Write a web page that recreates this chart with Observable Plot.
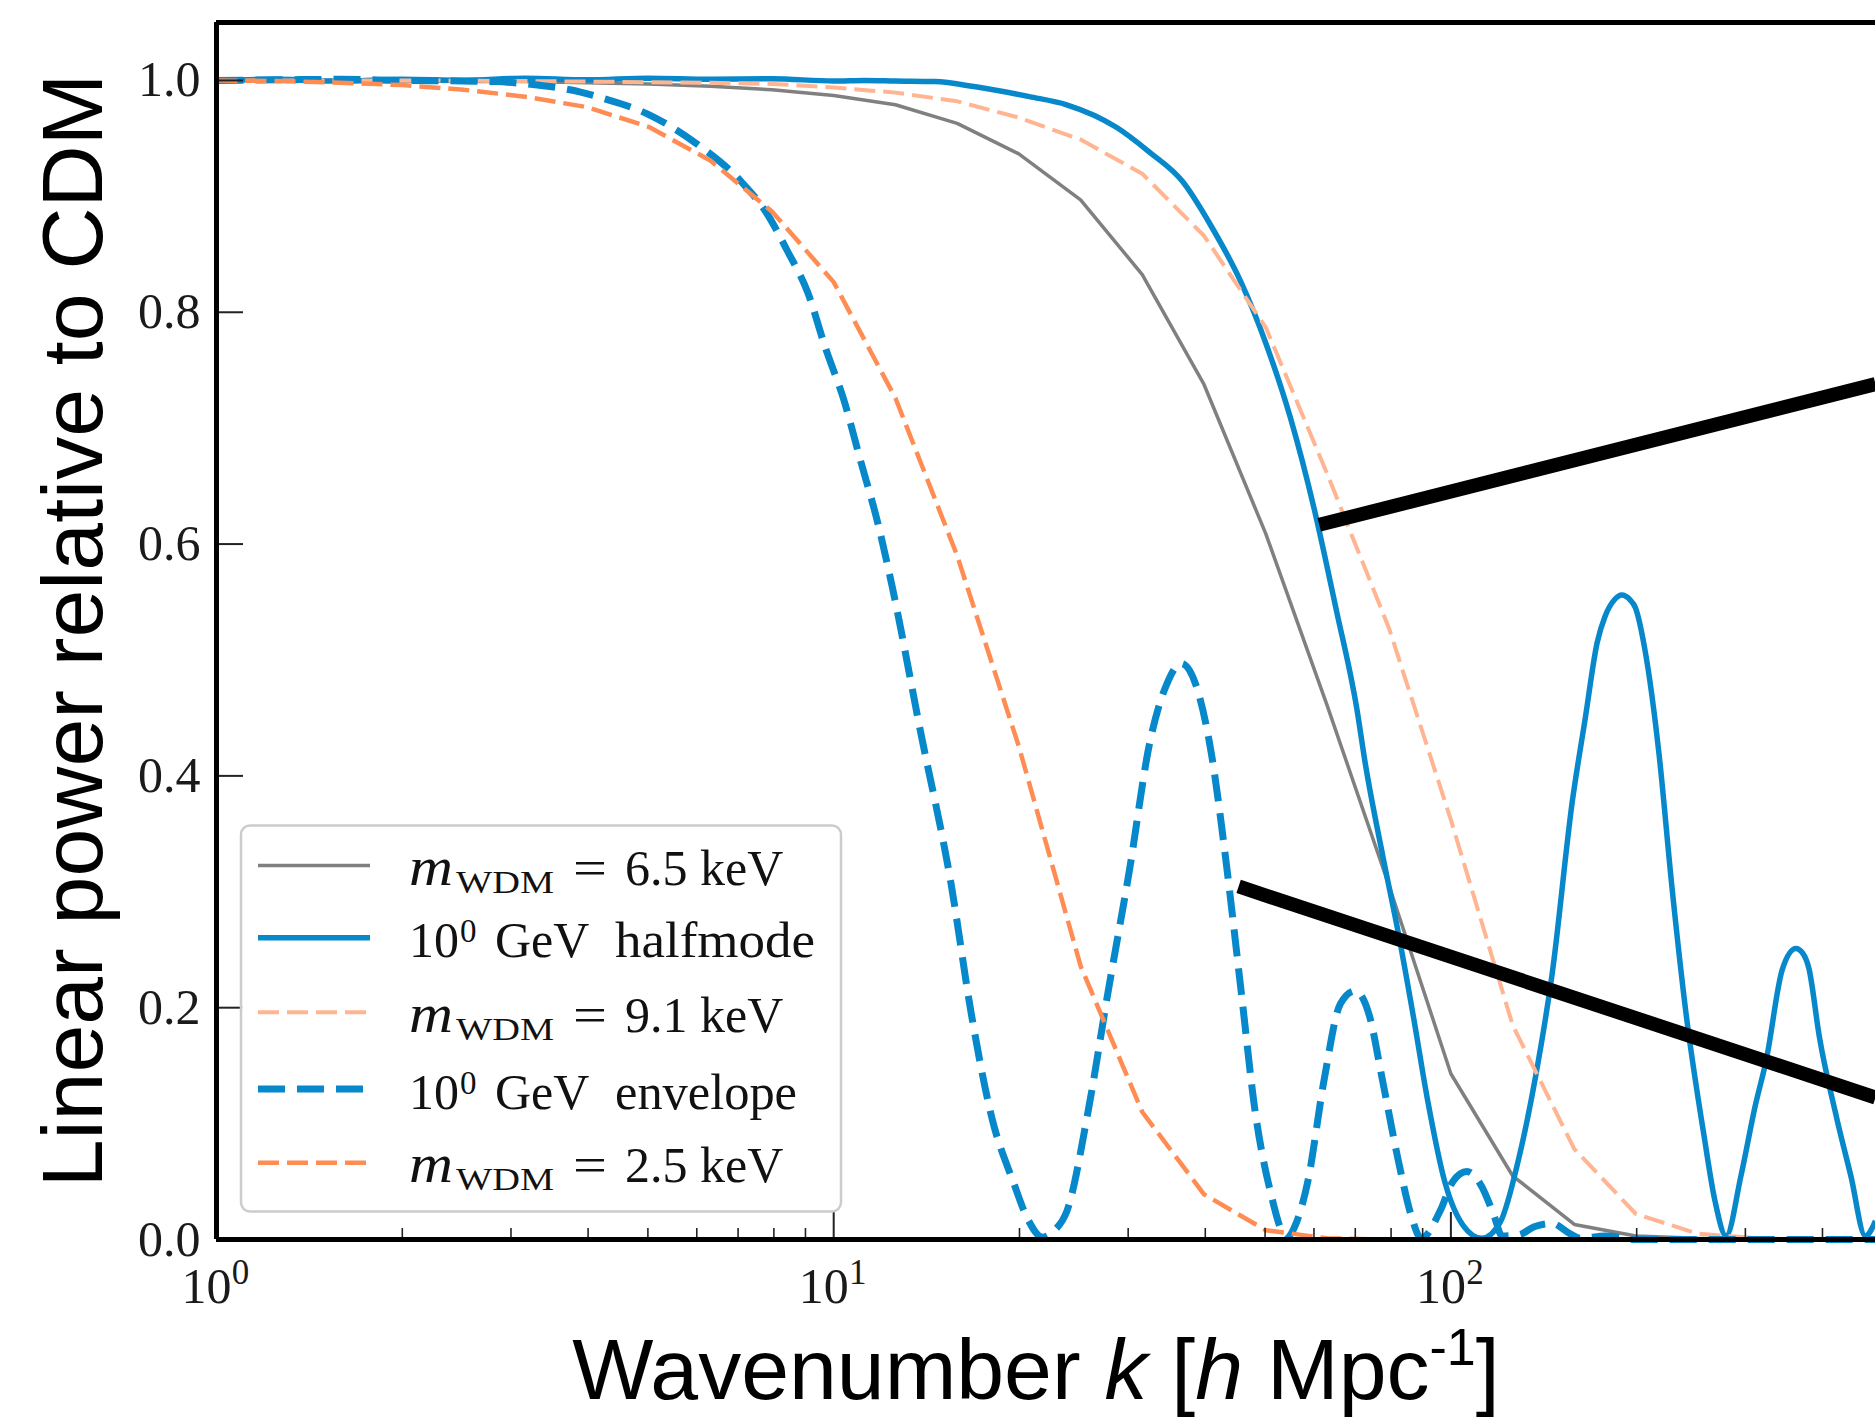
<!DOCTYPE html>
<html>
<head>
<meta charset="utf-8">
<script src="https://cdn.jsdelivr.net/npm/d3@7"></script>
<script src="https://cdn.jsdelivr.net/npm/@observablehq/plot@0.6"></script>
<style>
  html, body { margin: 0; padding: 0; background: #ffffff; }
  #chart svg { display: block; }
</style>
</head>
<body>
<div id="chart"></div>
<script>
// ---------------- data ----------------
// coarse grid (10 points per decade) used by the WDM transfer functions
const gridK = [1, 1.259, 1.585, 1.995, 2.512, 3.162, 3.981, 5.012, 6.310, 7.943,
  10, 12.59, 15.85, 19.95, 25.12, 31.62, 39.81, 50.12, 63.10, 79.43,
  100, 125.9, 158.5, 199.5, 251.2, 316.2, 398.1, 487.5];

const wdm65 = [1.0, 1.0, 1.0, 0.9995, 0.999, 0.999, 0.998, 0.997, 0.995, 0.992,
  0.987, 0.979, 0.963, 0.9366, 0.897, 0.8325, 0.7377, 0.609, 0.46, 0.305,
  0.143, 0.055, 0.013, 0.003, 0.001, 0.0005, 0.0, 0.0];

const wdm91 = [1.0, 1.0, 1.0, 1.0, 0.9998, 0.9995, 0.999, 0.9985, 0.998, 0.997,
  0.994, 0.9895, 0.982, 0.968, 0.949, 0.9195, 0.866, 0.787, 0.66, 0.527,
  0.362, 0.185, 0.078, 0.022, 0.005, 0.001, 0.0, 0.0];

const wdm25 = [1.0, 0.9995, 0.998, 0.996, 0.992, 0.986, 0.977, 0.960, 0.931, 0.887,
  0.826, 0.726, 0.590, 0.4255, 0.236, 0.110, 0.039, 0.008, 0.001, 0.0,
  0.0, 0.0, 0.0, 0.0, 0.0, 0.0, 0.0, 0.0];

// 10^0 GeV halfmode (log10 k, ratio)
const halfmodeLogK = [0, 0.1, 0.2, 0.3, 0.4, 0.5, 0.6, 0.7, 0.8, 0.9,
  1.0, 1.05, 1.1, 1.163, 1.23, 1.317, 1.3775, 1.458, 1.512, 1.565,
  1.612, 1.659, 1.700, 1.740, 1.780, 1.814, 1.8474, 1.8615, 1.89, 1.915,
  1.94, 1.962, 1.99, 2.02, 2.05, 2.08, 2.11, 2.137, 2.164, 2.197,
  2.2175, 2.237, 2.25, 2.265, 2.277, 2.29, 2.299, 2.315, 2.337, 2.358,
  2.381, 2.41, 2.428, 2.446, 2.47, 2.493, 2.511, 2.537, 2.559, 2.57,
  2.58, 2.597, 2.625, 2.648, 2.6715, 2.688];
const halfmode = [1.0, 1.001, 0.9995, 1.001, 1.0, 1.002, 1.0005, 1.002, 1.001, 1.0015,
  0.9995, 1.0, 0.9995, 0.999, 0.9945, 0.986, 0.979, 0.9596, 0.938, 0.913,
  0.874, 0.827, 0.7735, 0.709, 0.627, 0.544, 0.4585, 0.41, 0.33, 0.264,
  0.19, 0.121, 0.05, 0.012, 0.001, 0.015, 0.07, 0.14, 0.229, 0.379,
  0.449, 0.515, 0.538, 0.552, 0.556, 0.552, 0.545, 0.507, 0.42, 0.305,
  0.195, 0.09, 0.033, 0.003, 0.055, 0.115, 0.155, 0.233, 0.251, 0.247,
  0.234, 0.175, 0.105, 0.055, 0.003, 0.016];

// 10^0 GeV envelope (log10 k, ratio)
const envelopeLogK = [0, 0.1, 0.2, 0.3, 0.4, 0.45, 0.52, 0.59, 0.6235, 0.697,
  0.777, 0.8507, 0.89, 0.9246, 0.958, 0.987, 1.0155, 1.0437, 1.072, 1.095,
  1.14, 1.19, 1.2235, 1.257, 1.291, 1.315, 1.338, 1.358, 1.378, 1.412,
  1.445, 1.479, 1.5126, 1.5395, 1.563, 1.5865, 1.6133, 1.6334, 1.66, 1.683,
  1.707, 1.734, 1.75, 1.768, 1.795, 1.821, 1.845, 1.868, 1.8886, 1.915,
  1.9355, 1.952, 1.9826, 2.0027, 2.026, 2.0497, 2.0697, 2.083, 2.11, 2.135,
  2.164, 2.19, 2.21, 2.25, 2.3, 2.688];
const envelope = [1.0, 1.0005, 1.001, 1.0, 0.9995, 0.999, 0.996, 0.99, 0.985, 0.9714,
  0.9457, 0.9124, 0.8867, 0.8533, 0.817, 0.7686, 0.726, 0.6716, 0.617, 0.5627,
  0.44, 0.3074, 0.193, 0.1034, 0.0497, 0.017, 0.002, 0.008, 0.0247, 0.11,
  0.215, 0.318, 0.43, 0.479, 0.497, 0.479, 0.4148, 0.336, 0.215, 0.11,
  0.0426, 0.002, 0.015, 0.0497, 0.139, 0.2035, 0.2145, 0.193, 0.139, 0.0676,
  0.021, 0.001, 0.0247, 0.0497, 0.0587, 0.046, 0.021, 0.003, 0.004, 0.011,
  0.0139, 0.006, 0.001, 0.003, 0.0, 0.0];

// zoom connector lines (to the inset panel off to the right)
const connectors = [
  {k1: 61.2, v1: 0.6166, k2: 487.5, v2: 0.738},
  {k1: 45.3, v1: 0.3046, k2: 487.5, v2: 0.1225}
];

const xMajorTicks = [1, 10, 100];
const xMajorExp = ["0", "1", "2"];
const xMinorTicks = [2, 3, 4, 5, 6, 7, 8, 9, 20, 30, 40, 50, 60, 70, 80, 90, 200, 300, 400];
const yTicks = [0, 0.2, 0.4, 0.6, 0.8, 1.0];
const xDomain = [1, 487.5];
const yDomain = [0, 1.05];

const legendItems = [
  {kind: "m", value: "6.5"},
  {kind: "g", value: "halfmode"},
  {kind: "m", value: "9.1"},
  {kind: "g", value: "envelope"},
  {kind: "m", value: "2.5"}
];

// ---------------- styles ----------------
const BLUE = "#0788cb", GRAY = "#808080", PEACH = "#ffb591", ORANGE = "#ff8c52";
const FONT_SERIF = "'Liberation Serif', 'DejaVu Serif', serif";
const FONT_SANS = "'Liberation Sans', Arial, sans-serif";
const styles = [
  {stroke: GRAY, strokeWidth: 3.5, dash: null},
  {stroke: BLUE, strokeWidth: 5.5, dash: null},
  {stroke: PEACH, strokeWidth: 4, dash: "21,8"},
  {stroke: BLUE, strokeWidth: 7, dash: "27,12"},
  {stroke: ORANGE, strokeWidth: 4.5, dash: "21,8"}
];

const W = 1875, H = 1417;
const mL = 216, mR = 0, mT = 22, mB = 178;
const plotW = W - mL - mR, plotH = H - mT - mB;

const zipGrid = (vals) => gridK.map((k, i) => ({k, v: vals[i]}));
const zipLog = (logs, vals) => logs.map((lk, i) => ({k: Math.pow(10, lk), v: vals[i]}));

const rows65 = zipGrid(wdm65);
const rows91 = zipGrid(wdm91);
const rows25 = zipGrid(wdm25);
const rowsHalf = zipLog(halfmodeLogK, halfmode);
const rowsEnv = zipLog(envelopeLogK, envelope);

const lineOpts = (s, curve) => ({
  x: "k", y: "v", stroke: s.stroke, strokeWidth: s.strokeWidth,
  strokeDasharray: s.dash ?? undefined, strokeLinecap: "butt", strokeLinejoin: "round", curve
});

const chart = Plot.plot({
  width: W, height: H,
  marginLeft: mL, marginRight: mR, marginTop: mT, marginBottom: mB,
  style: {background: "#ffffff", fontFamily: FONT_SERIF, overflow: "visible"},
  x: {type: "log", domain: xDomain, axis: null},
  y: {domain: yDomain, axis: null},
  marks: [
    Plot.line(rows65, lineOpts(styles[0], "linear")),
    Plot.line(rowsHalf, lineOpts(styles[1], "monotone-x")),
    Plot.line(rows91, lineOpts(styles[2], "linear")),
    Plot.line(rowsEnv, lineOpts(styles[3], "monotone-x")),
    Plot.line(rows25, lineOpts(styles[4], "linear")),
    // inward ticks
    Plot.tickX(xMajorTicks, {x: d => d, insetTop: plotH - 27, stroke: "#222", strokeWidth: 2}),
    Plot.tickX(xMinorTicks, {x: d => d, insetTop: plotH - 11, stroke: "#222", strokeWidth: 1.6}),
    Plot.tickY(yTicks, {y: d => d, insetRight: plotW - 27, stroke: "#222", strokeWidth: 2}),
    // frame (left, bottom, top)
    Plot.ruleX([xDomain[0]], {stroke: "#000", strokeWidth: 5}),
    Plot.ruleY([yDomain[0]], {stroke: "#000", strokeWidth: 5}),
    Plot.ruleY([yDomain[1]], {stroke: "#000", strokeWidth: 5}),
    // axis labels
    Plot.axisY({ticks: yTicks, tickSize: 0, tickPadding: 16, tickFormat: d => d.toFixed(1),
      fontSize: 50, fontFamily: FONT_SERIF, fill: "#1a1a1a", label: null}),
    Plot.text(xMajorTicks, {x: d => d, frameAnchor: "bottom", lineAnchor: "middle", text: () => "10", dx: -10, dy: 47,
      fontSize: 50, fontFamily: FONT_SERIF, fill: "#1a1a1a"}),
    Plot.text(xMajorTicks, {x: d => d, frameAnchor: "bottom", lineAnchor: "middle", text: (d, i) => xMajorExp[i], dx: 24, dy: 33,
      fontSize: 35, fontFamily: FONT_SERIF, fill: "#1a1a1a"}),
    // connector lines
    Plot.link(connectors, {x1: "k1", y1: "v1", x2: "k2", y2: "v2", stroke: "#000", strokeWidth: 14, strokeLinecap: "butt"})
  ]
});

document.getElementById("chart").appendChild(chart);

// ---------------- text: axis titles and legend ----------------
const svg = d3.select(chart);

svg.append("text")
  .attr("transform", `translate(102,${mT + plotH / 2}) rotate(-90)`)
  .attr("text-anchor", "middle")
  .attr("font-family", FONT_SANS).attr("font-size", 86).attr("fill", "#000")
  .text("Linear power relative to CDM");

const xl = svg.append("text")
  .attr("x", 1036).attr("y", 1399)
  .attr("text-anchor", "middle")
  .attr("font-family", FONT_SANS).attr("font-size", 86).attr("fill", "#000")
  .style("white-space", "pre");
xl.append("tspan").text("Wavenumber ");
xl.append("tspan").attr("font-style", "italic").text("k");
xl.append("tspan").text(" [");
xl.append("tspan").attr("font-style", "italic").text("h");
xl.append("tspan").text(" Mpc");
xl.append("tspan").attr("font-size", 52).attr("dy", -34).text("-1");
xl.append("tspan").attr("dy", 34).text("]");

// legend
const lg = svg.append("g").attr("text-anchor", "start");
lg.append("rect")
  .attr("x", 241).attr("y", 825.5).attr("width", 600).attr("height", 386).attr("rx", 9)
  .attr("fill", "#ffffff").attr("fill-opacity", 0.85)
  .attr("stroke", "#cccccc").attr("stroke-width", 2.5);

const rowY = [865.5, 937.8, 1012.3, 1089, 1162.7];
legendItems.forEach((item, i) => {
  const s = styles[i];
  lg.append("line")
    .attr("x1", 258).attr("x2", 370).attr("y1", rowY[i]).attr("y2", rowY[i])
    .attr("stroke", s.stroke).attr("stroke-width", s.strokeWidth)
    .attr("stroke-dasharray", s.dash).attr("stroke-linecap", "butt");
  const base = rowY[i] + 19.5;
  const t = lg.append("text")
    .attr("y", base)
    .attr("text-anchor", "start")
    .attr("font-family", FONT_SERIF).attr("font-size", 50).attr("fill", "#111")
    .style("white-space", "pre");
  if (item.kind === "m") {
    t.append("tspan").attr("x", 409).attr("font-style", "italic").attr("font-size", 54)
      .attr("textLength", 44).attr("lengthAdjust", "spacingAndGlyphs").text("m");
    t.append("tspan").attr("x", 456).attr("y", base + 8).attr("font-size", 31)
      .attr("textLength", 98).attr("lengthAdjust", "spacingAndGlyphs").text("WDM");
    t.append("tspan").attr("x", 573).attr("y", base)
      .attr("textLength", 34).attr("lengthAdjust", "spacingAndGlyphs").text("=");
    t.append("tspan").attr("x", 625).text(`${item.value} keV`);
  } else {
    t.append("tspan").attr("x", 409).text("10");
    t.append("tspan").attr("x", 460).attr("y", base - 15).attr("font-size", 33).text("0");
    t.append("tspan").attr("x", 495).attr("y", base).text("GeV");
    t.append("tspan").attr("x", 615).attr("textLength", item.value === "halfmode" ? 200 : 182)
      .attr("lengthAdjust", "spacingAndGlyphs").text(item.value);
  }
});
</script>
</body>
</html>
